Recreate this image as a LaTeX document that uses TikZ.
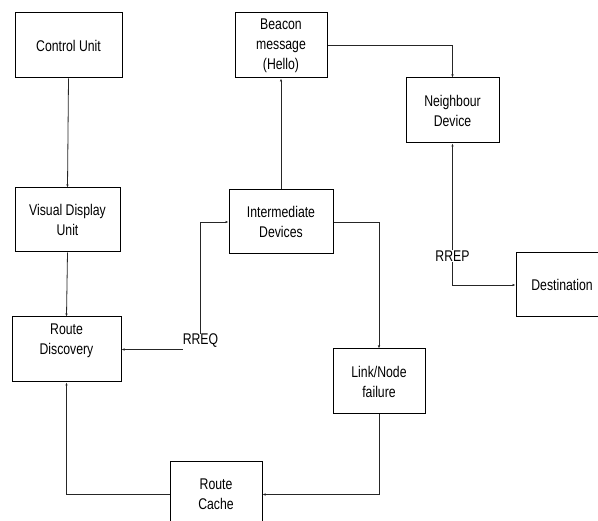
\documentclass[tikz,border=0pt]{standalone}
\usepackage{fontspec}
\newfontfamily\labfont[FakeStretch=0.79]{Liberation Sans}
\usetikzlibrary{arrows.meta}
\begin{document}
\begin{tikzpicture}[x=1pt,y=-1pt,
  box/.style={draw=black,line width=1pt,inner sep=0pt,align=center,
    font=\labfont\fontsize{15.5}{20}\selectfont},
  lbl/.style={inner sep=0pt,font=\labfont\fontsize{15.5}{20}\selectfont},
  arr/.style={draw=black!85,line width=0.8pt,-{Latex[length=3pt,width=2.5pt]}},
  ln/.style={draw=black!85,line width=0.8pt}]
\useasboundingbox (0,0) rectangle (598,521);
\clip (0,0) rectangle (598,521);
\node[box,minimum width=107pt,minimum height=65pt] (cu) at (68.5,45.5) {Control Unit};
\node[box,minimum width=105pt,minimum height=64pt] (vdu) at (67.5,220) {Visual Display\\Unit};
\node[box,minimum width=109pt,minimum height=65pt] (rd) at (66.5,349.5) {};
\node[lbl,align=center] (rdt) at (66.5,341) {Route\\Discovery};
\node[box,minimum width=104pt,minimum height=64pt] (id) at (281,222) {Intermediate\\Devices};
\node[box,minimum width=92pt,minimum height=65pt] (bm) at (281,45.5) {Beacon\\message\\(Hello)};
\node[box,minimum width=93pt,minimum height=65pt] (nd) at (452.5,110.5) {Neighbour\\Device};
\node[box,minimum width=92pt,minimum height=64pt] (dest) at (562,285) {Destination};
\node[box,minimum width=92pt,minimum height=65pt] (lnf) at (379,381.5) {Link/Node\\failure};
\node[box,minimum width=92pt,minimum height=65pt] (rc) at (216,494.5) {Route\\Cache};
\node[lbl] (rreq) at (200.5,341) {RREQ};
\node[lbl] (rrep) at (452.5,256) {RREP};
\draw[arr] (cu.south) -- (vdu.north);
\draw[arr] (vdu.south) -- (rd.north);
\draw[arr] (rreq.north) |- (id.west);
\draw[arr] (rreq.west |- rd.east) -- (rd.east);
\draw[arr] (id.north) -- (bm.south);
\draw[arr] (bm.east) -| (nd.north);
\draw[arr] (rrep.north) -- (nd.south);
\draw[arr] (rrep.south) |- (dest.west);
\draw[arr] (id.east) -| (lnf.north);
\draw[arr] (lnf.south) |- (rc.east);
\draw[arr] (rc.west) -| (rd.south);
\end{tikzpicture}
\end{document}
